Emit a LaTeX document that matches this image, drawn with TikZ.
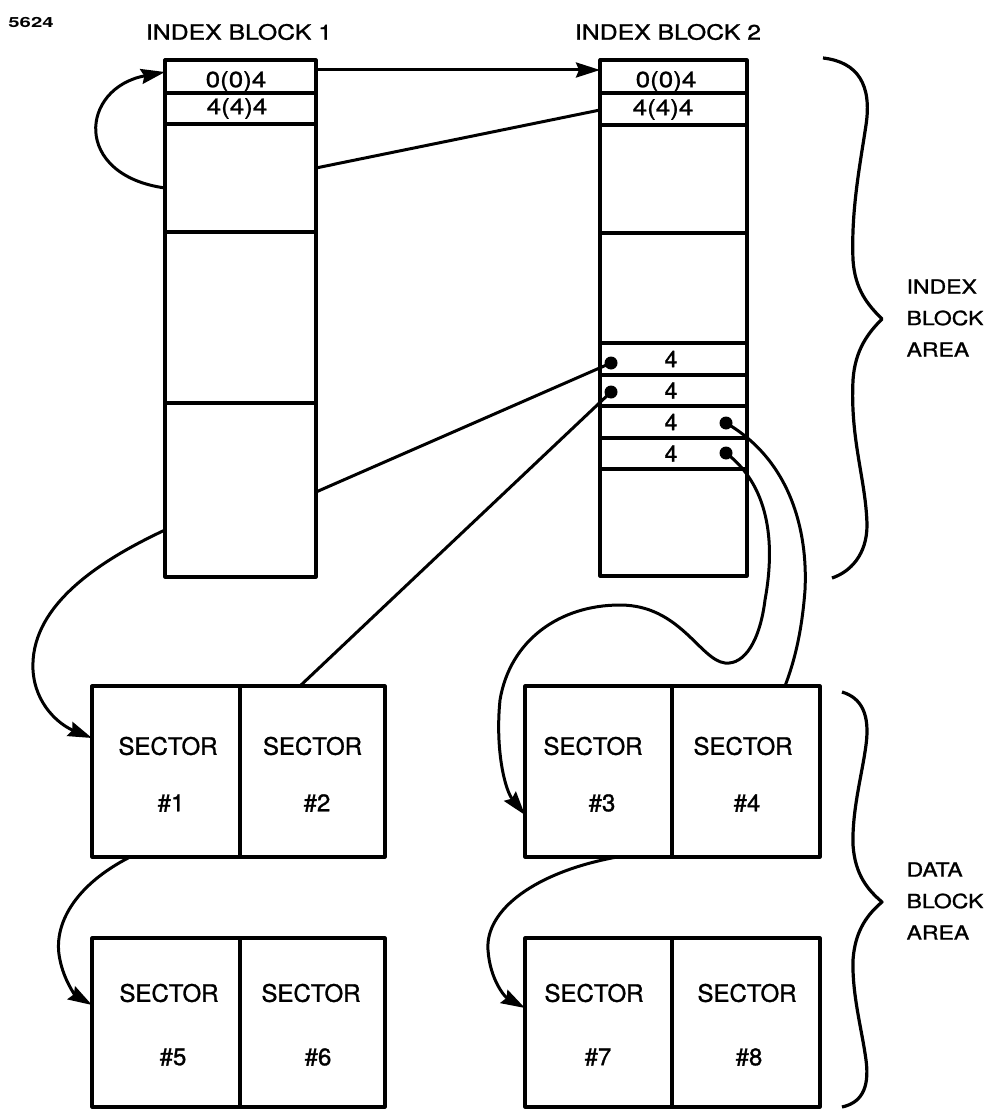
\documentclass[tikz,border=0pt]{standalone}
\usepackage{fontspec}
\setmainfont[FakeBold=1.2]{TeX Gyre Heros}
\newfontfamily\widefont[FakeStretch=1.18,FakeBold=1.2]{TeX Gyre Heros}
\newfontfamily\widerfont[FakeStretch=1.45]{TeX Gyre Heros}
\usetikzlibrary{arrows.meta}
\begin{document}
\begin{tikzpicture}[x=1pt,y=-1pt,line width=3.2pt,line join=round,
  blk/.style={draw,rectangle,inner sep=0pt,outer sep=0pt},
  txt/.style={inner sep=0pt,font=\fontsize{23}{28}\selectfont},
  sectxt/.style={inner sep=0pt,font=\fontsize{24}{28}\selectfont},
  rowt/.style={inner sep=0pt,font=\widefont\fontsize{22}{26}\selectfont},
  ttl/.style={inner sep=0pt,font=\widefont\fontsize{21}{26}\selectfont},
  area/.style={inner sep=0pt,anchor=west,align=left,font=\widefont\fontsize{19.5}{31.5}\selectfont},
  dot/.style={circle,fill,inner sep=0pt,minimum size=13pt},
  conn/.style={line width=3pt},
  arr/.style={conn,-{Stealth[length=24pt,width=15pt,inset=3pt]}},
  brace/.style={line width=3.2pt}]
\useasboundingbox (0,0) rectangle (992,1110);

% figure number
\node[inner sep=0pt,font=\widerfont\bfseries\fontsize{14}{14}\selectfont] (num) at (31,22) {5624};

% titles
\node[ttl] (t1) at (239,32) {INDEX BLOCK 1};
\node[ttl] (t2) at (668,32) {INDEX BLOCK 2};

% index blocks
\node[blk,minimum width=151pt,minimum height=517pt] (ib1) at (240.5,318.5) {};
\node[blk,minimum width=147pt,minimum height=516pt] (ib2) at (673.5,318) {};
\foreach \yy in {93,124,232,403} \draw (ib1.west |- 0,\yy) -- (ib1.east |- 0,\yy);
\foreach \yy in {93,125,233,343,375,406,438,469} \draw (ib2.west |- 0,\yy) -- (ib2.east |- 0,\yy);

\node[rowt] (r11) at (236,81.5) {0(0)4};
\node[rowt] (r12) at (237,108.5) {4(4)4};
\node[rowt] (r21) at (666,81.5) {0(0)4};
\node[rowt] (r22) at (663,109.5) {4(4)4};

\node[txt] (f1) at (671,359) {4};
\node[txt] (f2) at (671,390.5) {4};
\node[txt] (f3) at (671,422) {4};
\node[txt] (f4) at (671,453.5) {4};

\node[dot] (d1) at (611,363) {};
\node[dot] (d2) at (611,392) {};
\node[dot] (d3) at (726,423) {};
\node[dot] (d4) at (726,453) {};

% sectors
\node[blk,minimum width=148pt,minimum height=171pt] (s1) at (166,771.5) {};
\node[blk,minimum width=145pt,minimum height=171pt] (s2) at (312.5,771.5) {};
\node[blk,minimum width=147pt,minimum height=171pt] (s3) at (598.5,771.5) {};
\node[blk,minimum width=148pt,minimum height=171pt] (s4) at (746,771.5) {};
\node[blk,minimum width=148pt,minimum height=169pt] (s5) at (166,1022.5) {};
\node[blk,minimum width=145pt,minimum height=169pt] (s6) at (312.5,1022.5) {};
\node[blk,minimum width=147pt,minimum height=169pt] (s7) at (598.5,1022.5) {};
\node[blk,minimum width=148pt,minimum height=169pt] (s8) at (746,1022.5) {};

\node[sectxt] (s1a) at (168,746) {SECTOR};
\node[sectxt] (s1b) at (171,803) {\#1};
\node[sectxt] (s2a) at (312.5,746) {SECTOR};
\node[sectxt] (s2b) at (317,803) {\#2};
\node[sectxt] (s3a) at (593,746) {SECTOR};
\node[sectxt] (s3b) at (602,803) {\#3};
\node[sectxt] (s4a) at (743,746) {SECTOR};
\node[sectxt] (s4b) at (747,803) {\#4};
\node[sectxt] (s5a) at (169,993) {SECTOR};
\node[sectxt] (s5b) at (173,1057) {\#5};
\node[sectxt] (s6a) at (311,993) {SECTOR};
\node[sectxt] (s6b) at (318,1057) {\#6};
\node[sectxt] (s7a) at (594,993) {SECTOR};
\node[sectxt] (s7b) at (598,1057) {\#7};
\node[sectxt] (s8a) at (747,993) {SECTOR};
\node[sectxt] (s8b) at (749,1057) {\#8};

% area labels
\node[area] (la) at (905,318) {INDEX\\BLOCK\\AREA};
\node[area] (lb) at (905,901) {DATA\\BLOCK\\AREA};

% connector end points
\coordinate (loopA) at (ib1.west |- 0,188);
\coordinate (loopB) at (ib1.west |- 0,72);
\coordinate (topA) at (ib1.east |- 0,70);
\coordinate (topB) at (ib2.west |- 0,70);
\coordinate (midA) at (ib1.east |- 0,168);
\coordinate (midB) at (ib2.west |- 0,110);
\coordinate (lowA) at (ib1.east |- 0,492);
\coordinate (botA) at (ib1.west |- 0,530);
\coordinate (s1in) at (s1.west |- 0,738);
\coordinate (s2top) at (s2.north -| 300,0);
\coordinate (s4top) at (s4.north -| 785,0);
\coordinate (s3in) at (s3.west |- 0,815);
\coordinate (s1out) at (s1.south -| 130,0);
\coordinate (s5in) at (s5.west |- 0,1005);
\coordinate (s3out) at (s3.south -| 617,0);
\coordinate (s7in) at (s7.west |- 0,1008);

% connectors
\draw[arr] (loopA) .. controls (72,175) and (80,88) .. (loopB);
\draw[arr] (topA) -- (topB);
\draw[conn] (midA) -- (midB);
\draw[conn] (lowA) -- (d1.center);
\draw[conn] (d2.center) -- (s2top);
\draw[arr] (botA) .. controls (90,565) and (30,610) .. (33,670) .. controls (35,705) and (60,725) .. (s1in);
\draw[conn] (d3.center) .. controls (790,460) and (808,530) .. (805,590) .. controls (802,630) and (795,660) .. (s4top);
\draw[arr] (d4.center) .. controls (768,485) and (776,540) .. (765,600) .. controls (760,640) and (745,665) .. (725,663) .. controls (700,660) and (680,605) .. (620,605) .. controls (560,605) and (510,640) .. (500,700) .. controls (495,750) and (505,790) .. (s3in);
\draw[arr] (s1out) .. controls (75,885) and (52,925) .. (60,960) .. controls (64,980) and (75,995) .. (s5in);
\draw[arr] (s3out) .. controls (535,872) and (485,910) .. (488,950) .. controls (490,980) and (505,997) .. (s7in);

% braces
\draw[brace] (823,58) .. controls (858,62) and (872,85) .. (866,125)
  .. controls (860,165) and (851,210) .. (853,260)
  .. controls (855,290) and (868,305) .. (882,319)
  .. controls (868,333) and (855,350) .. (853,380)
  .. controls (850,440) and (866,480) .. (867,525)
  .. controls (867,555) and (850,572) .. (832,578);
\draw[brace] (842,692) .. controls (862,698) and (870,715) .. (866,745)
  .. controls (862,775) and (852,810) .. (853,845)
  .. controls (855,875) and (868,890) .. (882,902)
  .. controls (868,914) and (855,930) .. (853,960)
  .. controls (852,995) and (862,1030) .. (866,1060)
  .. controls (870,1090) and (860,1103) .. (842,1107);
\end{tikzpicture}
\end{document}
